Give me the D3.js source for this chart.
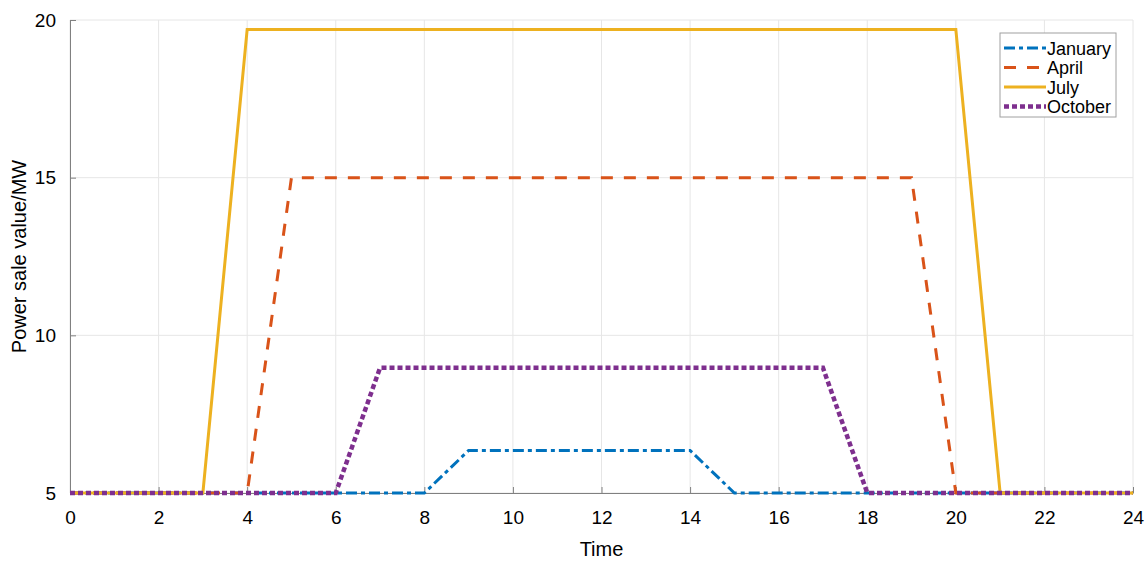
<!DOCTYPE html>
<html>
<head>
<meta charset="utf-8">
<script src="https://cdn.jsdelivr.net/npm/d3@7"></script>
<style>
  body { margin: 0; background: #fff; }
  text { font-family: "Liberation Sans", Arial, sans-serif; }
</style>
</head>
<body>
<div id="svg-area"></div>
<script>
var svgWidth = 1146;
var svgHeight = 561;

// hours and series values (MW)
var hours = d3.range(0, 25);
var january = [5,5,5,5,5,5,5,5,5,6.35,6.35,6.35,6.35,6.35,6.35,5,5,5,5,5,5,5,5,5,5];
var april   = [5,5,5,5,5,15,15,15,15,15,15,15,15,15,15,15,15,15,15,15,5,5,5,5,5];
var july    = [5,5,5,5,19.7,19.7,19.7,19.7,19.7,19.7,19.7,19.7,19.7,19.7,19.7,19.7,19.7,19.7,19.7,19.7,19.7,5,5,5,5];
var october = [5,5,5,5,5,5,5,8.97,8.97,8.97,8.97,8.97,8.97,8.97,8.97,8.97,8.97,8.97,5,5,5,5,5,5,5];

var xTicks = [0,2,4,6,8,10,12,14,16,18,20,22,24];
var yTicks = [5,10,15,20];

var series = [
  { name: "January", values: january, color: "#0072BD", dash: "11,4,4,4", width: 3 },
  { name: "April",   values: april,   color: "#D95319", dash: "12,11", width: 3 },
  { name: "July",    values: july,    color: "#EDB120", dash: null, width: 3 },
  { name: "October", values: october, color: "#7E2F8E", dash: "5,3", width: 4.5 }
];

var margin = { left: 70, right: 13, top: 20, bottom: 68 };

var svg = d3.select("#svg-area")
  .append("svg")
  .attr("width", svgWidth)
  .attr("height", svgHeight);

var xScale = d3.scaleLinear()
  .domain([0, 24])
  .range([margin.left, svgWidth - margin.right]);

var yScale = d3.scaleLinear()
  .domain([5, 20])
  .range([svgHeight - margin.bottom, margin.top]);

// grid
svg.append("g").selectAll("line")
  .data(xTicks)
  .enter().append("line")
  .attr("x1", d => xScale(d)).attr("x2", d => xScale(d))
  .attr("y1", yScale(5)).attr("y2", yScale(20))
  .attr("stroke", "#e6e6e6").attr("stroke-width", 1);

svg.append("g").selectAll("line")
  .data(yTicks)
  .enter().append("line")
  .attr("x1", xScale(0)).attr("x2", xScale(24))
  .attr("y1", d => yScale(d)).attr("y2", d => yScale(d))
  .attr("stroke", "#e6e6e6").attr("stroke-width", 1);

// axes
var xAxis = svg.append("g")
  .attr("transform", "translate(0," + yScale(5) + ")")
  .call(d3.axisBottom(xScale).tickValues(xTicks).tickSizeInner(-6).tickSizeOuter(0).tickPadding(18));

var yAxis = svg.append("g")
  .attr("transform", "translate(" + xScale(0) + ",0)")
  .call(d3.axisLeft(yScale).tickValues(yTicks).tickSizeInner(-6).tickSizeOuter(0).tickPadding(14));

[xAxis, yAxis].forEach(function(ax) {
  ax.select(".domain").attr("stroke", "#808080");
  ax.selectAll(".tick line").attr("stroke", "#808080");
  ax.selectAll(".tick text")
    .attr("fill", "#000")
    .style("font-size", "19px")
    .style("font-family", "Liberation Sans, Arial, sans-serif");
});

// lines
var lineGenerator = d3.line()
  .x((d, i) => xScale(hours[i]))
  .y(d => yScale(d));

series.forEach(function(s) {
  svg.append("path")
    .attr("fill", "none")
    .attr("stroke", s.color)
    .attr("stroke-width", s.width)
    .attr("stroke-dasharray", s.dash)
    .attr("d", lineGenerator(s.values));
});

// axis labels
svg.append("text")
  .attr("x", xScale(12))
  .attr("y", 556)
  .attr("text-anchor", "middle")
  .style("font-size", "20px")
  .text("Time");

svg.append("text")
  .attr("transform", "translate(26," + yScale(12.5) + ") rotate(-90)")
  .attr("text-anchor", "middle")
  .style("font-size", "20px")
  .text("Power sale value/MW");

// legend
var legend = svg.append("g").attr("transform", "translate(1000,33)");
legend.append("rect")
  .attr("width", 116).attr("height", 84)
  .attr("fill", "#fff").attr("stroke", "#a0a0a0").attr("stroke-width", 1);

series.forEach(function(s, i) {
  var y = 15 + i * 19.5;
  legend.append("line")
    .attr("x1", 4).attr("x2", 46)
    .attr("y1", y).attr("y2", y)
    .attr("stroke", s.color)
    .attr("stroke-width", s.width)
    .attr("stroke-dasharray", s.dash);
  legend.append("text")
    .attr("x", 47).attr("y", y + 6.5)
    .style("font-size", "18px")
    .text(s.name);
});
</script>
</body>
</html>
